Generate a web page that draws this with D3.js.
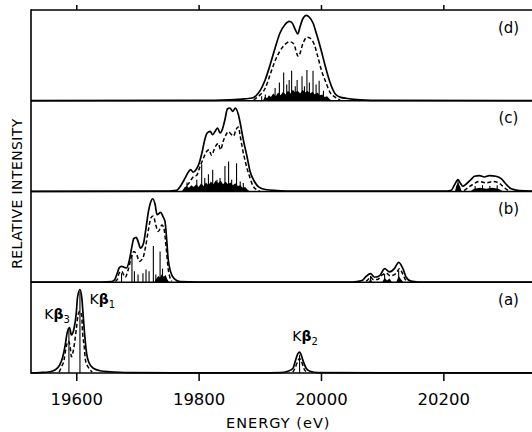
<!DOCTYPE html>
<html>
<head>
<meta charset="utf-8">
<script src="https://cdn.jsdelivr.net/npm/d3@7"></script>
<style>
  body { margin: 0; background: #fff; }
  svg { display: block; font-family: 'DejaVu Sans', sans-serif; }
  text { fill: #000; }
</style>
</head>
<body>
<div id="myGraph"></div>
<script>
// panel order, top to bottom
const panels = ['d', 'c', 'b', 'a'];
const xTicks = [19600, 19800, 20000, 20200];

// [energy (eV), relative intensity 0..1]
const solidA = [[19526,0.002],[19541,0.005],[19557,0.014],[19565,0.033],[19573,0.089],[19578,0.18],[19582,0.31],[19585,0.44],[19589,0.50],[19592,0.42],[19596,0.48],[19600,0.66],[19602,0.83],[19606,0.92],[19609,0.83],[19611,0.66],[19614,0.40],[19617,0.21],[19621,0.11],[19628,0.052],[19639,0.025],[19655,0.014],[19688,0.005],[19760,0.002],[19900,0.002],[19933,0.005],[19946,0.02],[19954,0.05],[19958,0.13],[19962,0.21],[19965,0.23],[19967,0.21],[19971,0.13],[19976,0.05],[19982,0.02],[19995,0.005],[20100,0.002],[20358,0.002]];
const dashedA = [
  [[19572,0.01],[19576,0.07],[19580,0.14],[19583,0.27],[19587,0.35],[19590,0.29],[19592,0.18],[19595,0.24],[19600,0.48],[19603,0.64],[19606,0.68],[19609,0.63],[19610,0.48],[19613,0.29],[19615,0.14],[19620,0.06],[19626,0.01]],
  [[19954,0.01],[19958,0.06],[19962,0.13],[19965,0.16],[19968,0.13],[19972,0.05],[19976,0.01]]
];
const baseA = [];
const sticksA = [[19588,0.48],[19606,0.90],[19965,0.20]];

const solidB = [[19526,0.002],[19640,0.003],[19658,0.006],[19663,0.03],[19667,0.10],[19670,0.157],[19674,0.176],[19678,0.165],[19682,0.157],[19687,0.249],[19691,0.396],[19694,0.48],[19698,0.495],[19701,0.451],[19705,0.377],[19710,0.432],[19714,0.597],[19718,0.78],[19722,0.89],[19725,0.92],[19729,0.854],[19732,0.744],[19738,0.77],[19742,0.72],[19745,0.67],[19748,0.45],[19750,0.27],[19754,0.12],[19760,0.04],[19770,0.006],[19800,0.002],[20050,0.002],[20061,0.01],[20068,0.022],[20074,0.066],[20081,0.096],[20087,0.058],[20092,0.06],[20097,0.08],[20104,0.15],[20112,0.114],[20120,0.15],[20127,0.22],[20134,0.15],[20139,0.058],[20147,0.012],[20159,0.003],[20358,0.002]];
const dashedB = [
  [[19664,0.01],[19667,0.03],[19670,0.10],[19674,0.12],[19680,0.055],[19685,0.14],[19691,0.30],[19694,0.34],[19699,0.30],[19703,0.23],[19709,0.27],[19713,0.38],[19718,0.58],[19722,0.71],[19726,0.73],[19730,0.63],[19734,0.56],[19740,0.63],[19743,0.60],[19747,0.38],[19750,0.16],[19753,0.055],[19756,0.01]],
  [[20074,0.01],[20077,0.03],[20081,0.06],[20085,0.03],[20092,0.03],[20100,0.08],[20107,0.10],[20113,0.07],[20123,0.10],[20128,0.15],[20133,0.10],[20137,0.04],[20141,0.01]]
];
const baseB = [
  [[19728,0],[19731,0.04],[19734,0.07],[19737,0.05],[19740,0.09],[19743,0.06],[19746,0.08],[19749,0.03],[19752,0]],
  [[20078,0],[20081,0.04],[20084,0]],
  [[20100,0],[20104,0.05],[20108,0.02],[20112,0.04],[20116,0]],
  [[20123,0],[20127,0.07],[20131,0.03],[20135,0]]
];
const sticksB = [[19674,0.10],[19691,0.30],[19695,0.12],[19701,0.085],[19709,0.10],[19714,0.14],[19719,0.12],[19726,0.40],[19730,0.085],[19737,0.34],[19741,0.15],[20081,0.07],[20104,0.09],[20127,0.13]];

const solidC = [[19526,0.002],[19740,0.004],[19764,0.014],[19772,0.077],[19778,0.15],[19783,0.212],[19787,0.242],[19791,0.212],[19796,0.242],[19801,0.315],[19806,0.443],[19810,0.571],[19814,0.645],[19819,0.663],[19823,0.626],[19827,0.663],[19831,0.70],[19835,0.645],[19839,0.689],[19843,0.791],[19847,0.909],[19851,0.92],[19856,0.883],[19860,0.92],[19865,0.846],[19869,0.718],[19873,0.571],[19879,0.388],[19884,0.223],[19891,0.113],[19898,0.051],[19909,0.022],[19928,0.011],[19960,0.004],[20200,0.004],[20213,0.014],[20218,0.07],[20224,0.13],[20228,0.09],[20232,0.058],[20237,0.08],[20245,0.13],[20251,0.168],[20259,0.176],[20267,0.16],[20275,0.176],[20286,0.168],[20295,0.14],[20303,0.077],[20311,0.03],[20324,0.011],[20358,0.004]];
const dashedC = [
  [[19775,0.01],[19778,0.04],[19786,0.11],[19791,0.16],[19797,0.18],[19802,0.27],[19808,0.37],[19813,0.44],[19817,0.46],[19821,0.40],[19827,0.49],[19832,0.53],[19836,0.46],[19840,0.55],[19845,0.63],[19849,0.66],[19852,0.64],[19857,0.61],[19861,0.68],[19865,0.71],[19868,0.61],[19872,0.46],[19877,0.31],[19883,0.17],[19889,0.06],[19895,0.02],[19900,0.005]],
  [[20234,0.01],[20240,0.04],[20248,0.077],[20259,0.11],[20270,0.095],[20281,0.11],[20292,0.088],[20300,0.04],[20306,0.01]]
];
const baseC = [
  [[19772,0],[19776,0.03],[19780,0.06],[19784,0.04],[19788,0.07],[19792,0.05],[19796,0.08],[19800,0.05],[19804,0.09],[19808,0.06],[19812,0.10],[19816,0.07],[19820,0.11],[19824,0.08],[19828,0.12],[19832,0.09],[19836,0.12],[19840,0.08],[19844,0.11],[19848,0.08],[19852,0.10],[19856,0.07],[19860,0.09],[19864,0.06],[19868,0.07],[19872,0.04],[19876,0.05],[19880,0.02],[19884,0]],
  [[20219,0],[20221,0.06],[20224,0.10],[20227,0.06],[20230,0]],
  [[20244,0],[20250,0.03],[20260,0.04],[20270,0.03],[20280,0.04],[20290,0.03],[20298,0]]
];
const sticksC = [[19781,0.10],[19797,0.13],[19805,0.30],[19810,0.15],[19816,0.19],[19823,0.24],[19830,0.13],[19835,0.15],[19843,0.28],[19849,0.33],[19854,0.13],[19862,0.31],[19868,0.11],[19873,0.095],[20224,0.12],[20252,0.06],[20264,0.07],[20276,0.06],[20288,0.07]];

const solidD = [[19526,0.002],[19800,0.004],[19850,0.01],[19875,0.02],[19889,0.033],[19898,0.088],[19903,0.143],[19909,0.234],[19917,0.399],[19925,0.582],[19933,0.747],[19941,0.838],[19948,0.874],[19953,0.857],[19958,0.784],[19962,0.736],[19966,0.821],[19971,0.912],[19976,0.94],[19981,0.92],[19987,0.857],[19993,0.729],[20000,0.564],[20007,0.381],[20015,0.198],[20023,0.077],[20031,0.04],[20043,0.025],[20064,0.01],[20100,0.004],[20358,0.002]];
const dashedD = [
  [[19890,0.01],[19898,0.05],[19909,0.14],[19917,0.29],[19925,0.44],[19933,0.55],[19941,0.62],[19949,0.65],[19955,0.63],[19963,0.49],[19971,0.64],[19977,0.70],[19982,0.69],[19989,0.62],[19995,0.48],[20001,0.33],[20007,0.22],[20015,0.09],[20023,0.04],[20031,0.01]]
];
const baseD = [
  [[19905,0],[19908,0.04],[19912,0.03],[19915,0.06],[19918,0.04],[19922,0.08],[19926,0.05],[19930,0.09],[19934,0.06],[19938,0.10],[19942,0.07],[19946,0.11],[19950,0.08],[19954,0.12],[19958,0.09],[19962,0.11],[19966,0.08],[19970,0.12],[19974,0.09],[19978,0.11],[19982,0.08],[19986,0.10],[19990,0.07],[19994,0.09],[19998,0.06],[20002,0.07],[20006,0.04],[20010,0.05],[20014,0.02],[20018,0]]
];
const sticksD = [[19903,0.05],[19909,0.07],[19925,0.14],[19932,0.20],[19939,0.31],[19944,0.18],[19948,0.23],[19952,0.33],[19958,0.16],[19961,0.23],[19969,0.27],[19973,0.16],[19977,0.34],[19981,0.20],[19987,0.33],[19992,0.18],[19997,0.22],[20004,0.11]];

// Kβ lines in panel (a): subscript, energy, peak intensity
const lineNames = ['3', '1', '2'];
const lineEnergies = [19588, 19606, 19965];
const linePeaks = [0.50, 0.92, 0.23];

function drawChart() {
  const svgWidth = 532;
  const svgHeight = 432;
  const left = 31, top = 10, bottom = 373;

  const panelData = {
    a: { solid: solidA, dashed: dashedA, base: baseA, sticks: sticksA },
    b: { solid: solidB, dashed: dashedB, base: baseB, sticks: sticksB },
    c: { solid: solidC, dashed: dashedC, base: baseC, sticks: sticksC },
    d: { solid: solidD, dashed: dashedD, base: baseD, sticks: sticksD }
  };

  const x = d3.scaleLinear().domain([19526, 20358]).range([left, 540]);
  const band = d3.scaleBand().domain(panels).range([top, bottom]);

  const svg = d3.select('#myGraph')
    .append('svg')
    .attr('width', svgWidth)
    .attr('height', svgHeight)
    .style('background-color', '#ffffff');

  panels.forEach(p => {
    const d = panelData[p];
    const y0 = band(p) + band.bandwidth();
    const y = d3.scaleLinear().domain([0, 1]).range([y0, band(p)]);
    const g = svg.append('g');

    // dense stick clusters near the base
    const area = d3.area().x(v => x(v[0])).y0(y0).y1(v => y(v[1]));
    g.selectAll('path.base')
      .data(d.base)
      .enter()
      .append('path')
      .attr('class', 'base')
      .attr('d', area)
      .attr('fill', '#000');

    g.selectAll('line.stick')
      .data(d.sticks)
      .enter()
      .append('line')
      .attr('class', 'stick')
      .attr('x1', v => x(v[0]))
      .attr('x2', v => x(v[0]))
      .attr('y1', y0)
      .attr('y2', v => y(v[1]))
      .attr('stroke', '#000')
      .attr('stroke-width', 1.1);

    const line = d3.line()
      .x(v => x(v[0]))
      .y(v => y(v[1]))
      .curve(d3.curveMonotoneX);

    g.selectAll('path.dashed')
      .data(d.dashed)
      .enter()
      .append('path')
      .attr('class', 'dashed')
      .attr('d', line)
      .attr('fill', 'none')
      .attr('stroke', '#000')
      .attr('stroke-width', 1.5)
      .attr('stroke-dasharray', '4,2.5');

    g.append('path')
      .attr('d', line(d.solid))
      .attr('fill', 'none')
      .attr('stroke', '#000')
      .attr('stroke-width', 1.7)
      .attr('stroke-linejoin', 'round');

    // panel label
    svg.append('text')
      .attr('x', 508.5)
      .attr('y', band(p) + 22.5)
      .attr('text-anchor', 'middle')
      .attr('font-size', 15)
      .text(`(${p})`);

    if (p === 'a') {
      const offsets = [[1, -9, 'end'], [9.5, 14, 'start'], [5.5, -11, 'middle']];
      lineNames.forEach((n, i) => {
        const t = svg.append('text')
          .attr('x', x(lineEnergies[i]) + offsets[i][0])
          .attr('y', y(linePeaks[i]) + offsets[i][1])
          .attr('text-anchor', offsets[i][2])
          .attr('font-size', 14)
          .attr('fill', '#000');
        t.append('tspan').text('K');
        t.append('tspan').attr('font-weight', 'bold').text('β');
        t.append('tspan').attr('font-size', 10).attr('dy', 4).text(n);
      });
    }
  });

  // frame and panel dividers
  const frame = svg.append('g')
    .attr('stroke', '#000')
    .attr('stroke-width', 1.6)
    .attr('fill', 'none');
  frame.append('line').attr('x1', left).attr('x2', left).attr('y1', top - 0.8).attr('y2', bottom + 0.8);
  frame.selectAll('line.div')
    .data([top].concat(panels.map(p => band(p) + band.bandwidth())))
    .enter()
    .append('line')
    .attr('class', 'div')
    .attr('x1', left)
    .attr('x2', svgWidth + 10)
    .attr('y1', v => v)
    .attr('y2', v => v);

  // axes
  svg.append('g')
    .attr('transform', `translate(0,${bottom})`)
    .call(d3.axisBottom(x).tickValues(xTicks).tickSize(8).tickPadding(12).tickFormat(d3.format('d')))
    .attr('font-size', 16.5)
    .attr('font-family', 'DejaVu Sans, sans-serif')
    .call(g => g.select('.domain').remove())
    .call(g => g.selectAll('.tick line').attr('stroke-width', 1.5))
    .call(g => g.selectAll('.tick text').attr('fill', '#000'));

  svg.append('g')
    .attr('transform', `translate(0,${top})`)
    .call(d3.axisTop(x).tickValues(xTicks).tickSize(5).tickFormat(''))
    .call(g => g.select('.domain').remove())
    .call(g => g.selectAll('.tick line').attr('stroke-width', 1.5));

  svg.append('text')
    .attr('x', 278.3)
    .attr('y', 427.5)
    .attr('text-anchor', 'middle')
    .attr('font-size', 14.5)
    .attr('letter-spacing', 1)
    .text('ENERGY (eV)');

  svg.append('text')
    .attr('transform', 'translate(21.7,193.5) rotate(-90)')
    .attr('text-anchor', 'middle')
    .attr('font-size', 14)
    .attr('letter-spacing', 0.4)
    .text('RELATIVE INTENSITY');
}

drawChart();
</script>
</body>
</html>
